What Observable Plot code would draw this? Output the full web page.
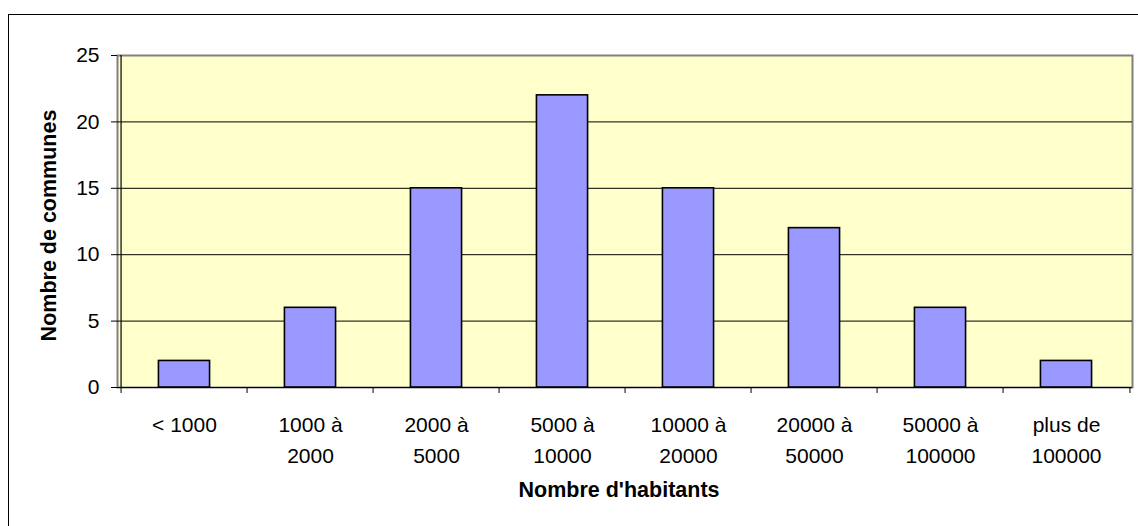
<!DOCTYPE html>
<html>
<head>
<meta charset="utf-8">
<script src="https://cdn.jsdelivr.net/npm/d3@7"></script>
<script src="https://cdn.jsdelivr.net/npm/@observablehq/plot@0.6"></script>
<style>
  html, body { margin: 0; padding: 0; background: #fff; overflow: hidden; }
  #wrap { position: relative; width: 1138px; height: 526px; overflow: hidden; }
  #border { position: absolute; left: 8px; top: 14px; width: 1400px; height: 800px; border: 1.5px solid #000; pointer-events: none; }
</style>
</head>
<body>
<div id="wrap"><div id="chart"></div><div id="border"></div></div>
<script>
const categories = ["< 1000", "1000 à\n2000", "2000 à\n5000", "5000 à\n10000", "10000 à\n20000", "20000 à\n50000", "50000 à\n100000", "plus de\n100000"];
const values = [2, 6, 15, 22, 15, 12, 6, 2];
const yTicks = [0, 5, 10, 15, 20, 25];
const gridValues = [5, 10, 15, 20];
const xTitle = "Nombre d'habitants";
const yTitle = "Nombre de communes";

const data = categories.map((c, i) => ({cat: c, val: values[i]}));

const W = 1138, H = 526;
const mL = 117, mR = 6, mT = 55, mB = 139;
const bw = (W - mL - mR) / categories.length;
const barInset = (bw - 52) / 2;

const chart = Plot.plot({
  width: W,
  height: H,
  marginLeft: mL,
  marginRight: mR,
  marginTop: mT,
  marginBottom: mB,
  style: {fontFamily: "'Liberation Sans', Arial, sans-serif", fontSize: "21px", color: "#000", background: "transparent"},
  x: {domain: categories, padding: 0, label: null},
  y: {domain: [0, 25], ticks: yTicks, label: null},
  marks: [
    Plot.frame({fill: "#FFFFCC", stroke: "#808080", strokeWidth: 2}),
    Plot.ruleY(gridValues, {stroke: "#000", strokeWidth: 1}),
    Plot.barY(data, {x: "cat", y: "val", fill: "#9999FF", stroke: "#000", strokeWidth: 1.6, insetLeft: barInset, insetRight: barInset}),
    Plot.ruleY([0], {stroke: "#000", strokeWidth: 1.2}),
    Plot.ruleX(categories.slice(0, 1), {x: d => d, dx: -bw / 2, stroke: "#000", strokeWidth: 1.2}),
    Plot.ruleX(categories, {x: d => d, dx: -bw / 2, y1: 0, y2: -0.45, stroke: "#000", strokeWidth: 1}),
    Plot.ruleX(categories.slice(-1), {x: d => d, dx: bw / 2, y1: 0, y2: -0.45, stroke: "#000", strokeWidth: 1}),
    Plot.axisY({ticks: yTicks, tickSize: 6, tickPadding: 12, fontSize: 21, label: null}),
    Plot.axisX({tickSize: 0, tickPadding: 23, fontSize: 21, lineHeight: 1.45, label: null}),
    Plot.text([xTitle], {frameAnchor: "bottom", dx: -6, dy: 103, lineAnchor: "middle", textAnchor: "middle", fontWeight: "bold", fontSize: 21.5, fill: "#000"}),
    Plot.text([yTitle], {frameAnchor: "left", dx: -68, dy: 4, rotate: -90, lineAnchor: "middle", textAnchor: "middle", fontWeight: "bold", fontSize: 21.5, fill: "#000"})
  ]
});
document.getElementById("chart").appendChild(chart);
</script>
</body>
</html>
